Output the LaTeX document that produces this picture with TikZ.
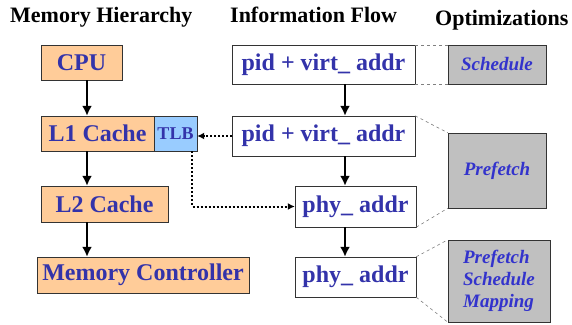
\documentclass[tikz,border=0pt]{standalone}
\usepackage{fontspec}
\setmainfont{Liberation Serif}
\usetikzlibrary{arrows.meta}
\definecolor{boxorange}{RGB}{255,204,153}
\definecolor{tlbblue}{RGB}{153,204,255}
\definecolor{textblue}{RGB}{51,51,170}
\definecolor{optblue}{RGB}{51,51,204}
\definecolor{optgray}{RGB}{192,192,192}

\begin{document}
\begin{tikzpicture}[x=1pt,y=-1pt]

                \tikzset{header/.style = {font=\fontsize{22}{26}\selectfont\bfseries,anchor=base west,inner sep=0}}
                \tikzset{unit/.style = {draw=black!80,fill=boxorange,text=textblue,inner sep=0,font=\fontsize{24}{28}\selectfont\bfseries}}
                \tikzset{info/.style = {draw=black!80,fill=white,text=textblue,inner sep=0,font=\fontsize{24}{28}\selectfont\bfseries}}
                \tikzset{opt/.style = {draw=black!80,fill=optgray,text=optblue,inner sep=0,font=\fontsize{19}{23}\selectfont\bfseries\itshape}}
                \tikzset{edge/.style = {-{Latex[length=10pt,width=10pt]},line width=2pt}}
                \tikzset{lookup/.style = {-{Latex[length=7pt,width=7pt]},line width=2pt,dash pattern=on 2pt off 2pt}}
                \tikzset{link/.style = {gray,dashed,line width=0.6pt}}

                \useasboundingbox (0,0) rectangle (572,324);

                % column titles
                \node[header] (hmem) at (10,22) {Memory Hierarchy};
                \node[header] (hflow) at (230,22) {Information Flow};
                \node[header] (hopt) at (435,25) {Optimizations};

                % memory hierarchy
                \node[unit,minimum width=81pt,minimum height=35pt] (cpu) at (81.5,62.5) {CPU};
                \node[unit,minimum width=113pt,minimum height=35pt] (l1) at (97.5,133.5) {L1 Cache};
                \node[unit,fill=tlbblue,minimum width=43pt,minimum height=35pt,font=\fontsize{18}{22}\selectfont\bfseries] (tlb) at (175.5,133.5) {TLB};
                \node[unit,minimum width=127pt,minimum height=36pt] (l2) at (104.5,204) {L2 Cache};
                \node[unit,minimum width=212pt,minimum height=36pt] (mc) at (143,275) {Memory Controller};

                % information flow
                \node[info,minimum width=183pt,minimum height=39pt] (pid1) at (323.5,64.5) {pid + virt\_ addr};
                \node[info,minimum width=183pt,minimum height=40pt] (pid2) at (323.5,136) {pid + virt\_ addr};
                \node[info,minimum width=121pt,minimum height=41pt] (phy1) at (355.5,206.5) {phy\_ addr};
                \node[info,minimum width=121pt,minimum height=40pt] (phy2) at (355.5,277) {phy\_ addr};

                % optimizations
                \node[opt,minimum width=98pt,minimum height=39pt] (sched) at (497,64.5) {Schedule};
                \node[opt,minimum width=98pt,minimum height=75pt] (pref) at (497,170.5) {Prefetch};
                \node[opt,minimum width=102pt,minimum height=82pt,align=left] (all) at (499,281) {Prefetch\\[-1pt]Schedule\\[-1pt]Mapping};

                \coordinate (memx) at (87,0);
                \coordinate (flowx) at (345,0);
                \coordinate (tlbx) at (192,0);

                \draw[edge] (cpu.south -| memx) -- (l1.north -| memx);
                \draw[edge] (l1.south -| memx) -- (l2.north -| memx);
                \draw[edge] (l2.south -| memx) -- (mc.north -| memx);

                \draw[edge] (pid1.south -| flowx) -- (pid2.north -| flowx);
                \draw[edge] (pid2.south -| flowx) -- (phy1.north -| flowx);
                \draw[edge] (phy1.south -| flowx) -- (phy2.north -| flowx);

                \draw[lookup] (pid2.west) -- (tlb.east |- pid2.west);
                \draw[lookup] (tlb.south -| tlbx) |- (phy1.west);

                \draw[link] (pid1.north east) -- (sched.north west);
                \draw[link] (pid1.south east) -- (sched.south west);
                \draw[link] (pid2.north east) -- (pref.north west);
                \draw[link] (phy1.south east) -- (pref.south west);
                \draw[link] (phy2.north east) -- (all.north west);
                \draw[link] (phy2.south east) -- (all.south west);

            \end{tikzpicture}
\end{document}
